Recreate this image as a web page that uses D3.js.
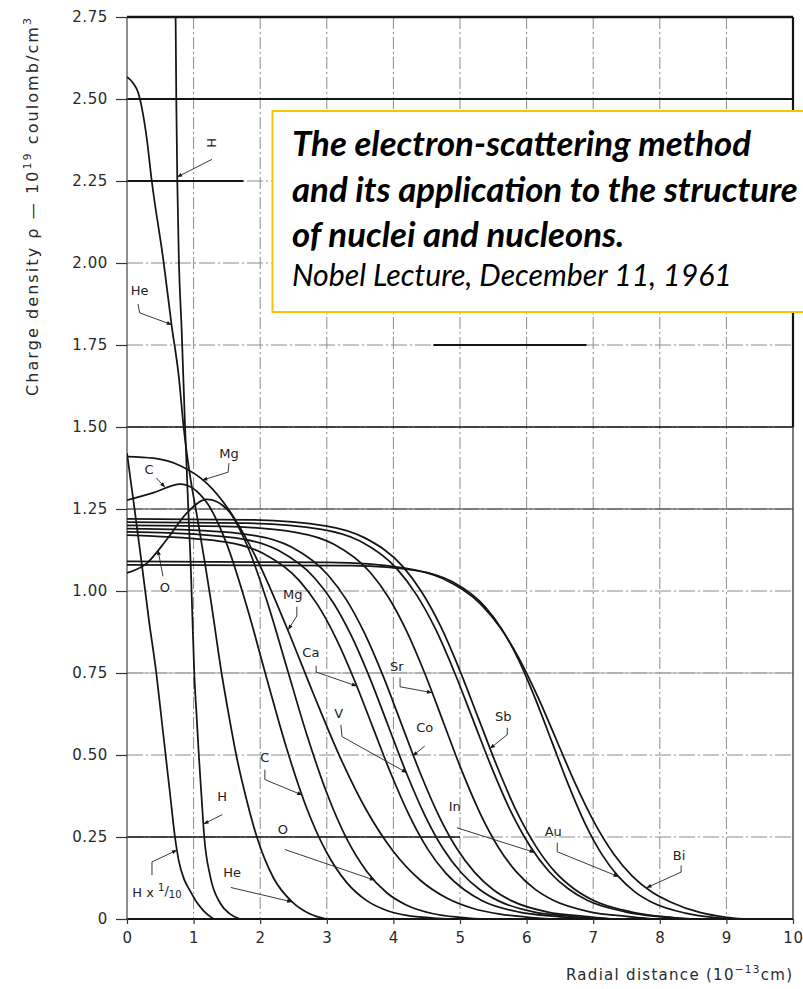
<!DOCTYPE html>
<html>
<head>
<meta charset="utf-8">
<script src="https://cdn.jsdelivr.net/npm/d3@7"></script>
<style>
  html, body { margin: 0; padding: 0; background: #fff; }
  svg { display: block; }
</style>
</head>
<body>
<svg id="chart" width="803" height="989"></svg>
<script>
// ---------------- data ----------------
const xTicks = [0, 1, 2, 3, 4, 5, 6, 7, 8, 9, 10];
const xTickLabels = ["0", "1", "2", "3", "4", "5", "6", "7", "8", "9", "10"];
const yTicks = [0, 0.25, 0.5, 0.75, 1.0, 1.25, 1.5, 1.75, 2.0, 2.25, 2.5, 2.75];
const yTickLabels = ["0", "0.25", "0.50", "0.75", "1.00", "1.25", "1.50", "1.75", "2.00", "2.25", "2.50", "2.75"];

// charge density curves: [radial distance (1e-13 cm), density (1e19 C/cm^3)]
const hydrogenTenth = [[0,1.42],[0.06,1.33],[0.12,1.24],[0.22,1.085],[0.33,0.91],[0.44,0.75],[0.51,0.625],[0.58,0.5],[0.65,0.375],[0.72,0.25],[0.78,0.175],[0.86,0.12],[0.95,0.085],[1.05,0.05],[1.15,0.025],[1.3,0]];
const hydrogen = [[0.73,2.75],[0.74,2.5],[0.755,2.25],[0.78,2.0],[0.82,1.8],[0.87,1.51],[0.92,1.25],[0.956,1.084],[0.985,0.9],[1.01,0.75],[1.045,0.62],[1.08,0.495],[1.12,0.37],[1.16,0.25],[1.25,0.13],[1.4,0.048],[1.55,0.015],[1.7,0]];
const helium = [[0,2.567],[0.09,2.549],[0.17,2.518],[0.22,2.476],[0.30,2.375],[0.37,2.253],[0.545,2.01],[0.67,1.81],[0.78,1.65],[0.85,1.5],[0.94,1.36],[1.05,1.23],[1.17,1.085],[1.26,0.97],[1.42,0.75],[1.53,0.62],[1.64,0.5],[1.8,0.36],[1.95,0.25],[2.2,0.125],[2.48,0.052],[2.75,0.015],[3.0,0]];
const carbon = [[0,1.277],[0.4,1.300],[0.8,1.326],[1.2,1.269],[1.5,1.142],[1.8,0.952],[2.1,0.732],[2.4,0.518],[2.7,0.337],[3.0,0.202],[3.3,0.111],[3.6,0.056],[3.9,0.026],[4.2,0.011],[4.6,0.003],[4.9,0]];
const oxygen = [[0,1.055],[0.3,1.085],[0.6,1.158],[0.9,1.238],[1.2,1.279],[1.5,1.250],[1.8,1.141],[2.1,0.970],[2.4,0.766],[2.7,0.562],[3.0,0.384],[3.3,0.244],[3.6,0.145],[3.9,0.080],[4.2,0.042],[4.6,0.016],[5.0,0.005],[5.3,0]];
const magnesium = [[0,1.41],[0.4,1.405],[0.8,1.382],[1.2,1.328],[1.6,1.226],[2.0,1.076],[2.4,0.888],[2.8,0.686],[3.2,0.493],[3.6,0.330],[4.0,0.206],[4.4,0.119],[4.8,0.064],[5.2,0.032],[5.6,0.015],[6.0,0.006],[6.4,0]];
const calcium = [[0,1.17],[0.39,1.167],[1.49,1.149],[2.04,1.115],[2.59,1.031],[2.865,0.957],[3.14,0.855],[3.415,0.728],[3.69,0.585],[3.965,0.442],[4.24,0.315],[4.515,0.213],[4.79,0.139],[5.065,0.089],[5.34,0.055],[5.89,0.021],[6.44,0.008],[6.9,0]];
const vanadium = [[0,1.18],[0.62,1.177],[1.72,1.159],[2.27,1.124],[2.82,1.039],[3.095,0.965],[3.37,0.863],[3.645,0.735],[3.92,0.59],[4.195,0.445],[4.47,0.317],[4.745,0.215],[5.02,0.141],[5.295,0.090],[5.57,0.056],[6.12,0.021],[6.67,0.008],[7.1,0]];
const cobalt = [[0,1.19],[0.82,1.187],[1.92,1.169],[2.47,1.134],[3.02,1.048],[3.295,0.973],[3.57,0.870],[3.845,0.741],[4.12,0.595],[4.395,0.449],[4.67,0.320],[4.945,0.217],[5.22,0.142],[5.495,0.090],[5.77,0.056],[6.32,0.021],[6.87,0.008],[7.3,0]];
const strontium = [[0,1.20],[1.45,1.197],[2.55,1.178],[3.10,1.143],[3.65,1.057],[3.925,0.981],[4.20,0.877],[4.475,0.747],[4.75,0.60],[5.025,0.453],[5.30,0.323],[5.575,0.219],[5.85,0.143],[6.125,0.091],[6.40,0.057],[6.95,0.022],[7.50,0.008],[7.9,0]];
const indium = [[0,1.21],[1.78,1.207],[2.92,1.188],[3.49,1.153],[4.06,1.066],[4.345,0.989],[4.63,0.885],[4.915,0.753],[5.2,0.605],[5.485,0.457],[5.77,0.325],[6.055,0.221],[6.34,0.144],[6.625,0.092],[6.91,0.057],[7.48,0.022],[8.0,0.007],[8.4,0]];
const antimony = [[0,1.22],[1.86,1.217],[3.0,1.198],[3.57,1.162],[4.14,1.075],[4.425,0.997],[4.71,0.892],[4.995,0.759],[5.28,0.61],[5.565,0.461],[5.85,0.328],[6.135,0.223],[6.42,0.145],[6.705,0.093],[6.99,0.058],[7.56,0.022],[8.05,0.007],[8.5,0]];
const gold = [[0,1.08],[3.38,1.077],[4.38,1.061],[4.88,1.029],[5.38,0.951],[5.63,0.883],[5.88,0.790],[6.13,0.672],[6.38,0.54],[6.63,0.408],[6.88,0.290],[7.13,0.197],[7.38,0.129],[7.63,0.082],[7.88,0.051],[8.38,0.018],[8.8,0.005],[9.1,0]];
const bismuth = [[0,1.09],[3.03,1.087],[4.17,1.070],[4.74,1.038],[5.31,0.960],[5.595,0.891],[5.88,0.797],[6.165,0.679],[6.45,0.545],[6.735,0.411],[7.02,0.293],[7.305,0.199],[7.59,0.130],[7.875,0.083],[8.16,0.052],[8.6,0.02],[9.0,0.005],[9.25,0]];

const curves = [hydrogenTenth, hydrogen, helium, carbon, oxygen, magnesium, calcium, vanadium,
                cobalt, strontium, indium, antimony, gold, bismuth];

// ---------------- layout ----------------
const svg = d3.select("#chart");
const x = d3.scaleLinear().domain([0, 10]).range([127, 793]);
const y = d3.scaleLinear().domain([0, 2.75]).range([919, 17]);
const ink = "#151515";
const labelFont = "DejaVu Sans, Liberation Sans, sans-serif";

const defs = svg.append("defs");
defs.append("clipPath").attr("id", "plotClip")
  .append("rect").attr("x", x(0)).attr("y", y(2.75))
  .attr("width", x(10) - x(0)).attr("height", y(0) - y(2.75));
defs.append("marker").attr("id", "arrow")
  .attr("viewBox", "0 0 10 10").attr("refX", 10).attr("refY", 5)
  .attr("markerUnits", "userSpaceOnUse")
  .attr("markerWidth", 9).attr("markerHeight", 5)
  .attr("orient", "auto")
  .append("path").attr("d", "M0,1 L10,5 L0,9 Z").attr("fill", ink);

// ---- grid ----
const grid = svg.append("g");
grid.selectAll("line.vrule").data(xTicks.filter(d => d > 0 && d < 10)).join("line")
  .attr("class", "vrule")
  .attr("x1", d => x(d)).attr("x2", d => x(d))
  .attr("y1", y(2.75)).attr("y2", y(0))
  .attr("stroke", "#8c8c8c").attr("stroke-width", 1)
  .attr("stroke-dasharray", "12,3,2,3");
grid.selectAll("line.hrule").data(yTicks.filter(d => d > 0 && d < 2.75)).join("line")
  .attr("class", "hrule")
  .attr("x1", x(0)).attr("x2", x(10))
  .attr("y1", d => y(d)).attr("y2", d => y(d))
  .attr("stroke", "#8c8c8c").attr("stroke-width", 1)
  .attr("stroke-dasharray", "16,3,2,3");

// heavier ruled segments of the printed grid
const ruleSegments = [
  { v: 2.75, a: 0, b: 10, w: 2.6, c: ink },
  { v: 2.5, a: 0, b: 10, w: 2.2, c: ink },
  { v: 2.25, a: 0, b: 1.75, w: 2.0, c: ink },
  { v: 1.75, a: 4.6, b: 6.9, w: 1.8, c: ink },
  { v: 1.5, a: 0, b: 10, w: 1.7, c: ink },
  { v: 1.25, a: 0, b: 10, w: 1.2, c: "#333" },
  { v: 0.75, a: 0, b: 10, w: 1.1, c: "#a0a0a0" },
  { v: 0.25, a: 0, b: 5, w: 1.7, c: ink },
  { v: 0, a: 0, b: 10, w: 2.0, c: ink }
];
grid.selectAll("line.seg").data(ruleSegments).join("line")
  .attr("class", "seg")
  .attr("x1", d => x(d.a)).attr("x2", d => x(d.b))
  .attr("y1", d => y(d.v)).attr("y2", d => y(d.v))
  .attr("stroke", d => d.c).attr("stroke-width", d => d.w);

// frame sides
grid.append("line").attr("x1", x(0)).attr("x2", x(0)).attr("y1", y(2.75)).attr("y2", y(0))
  .attr("stroke", "#444").attr("stroke-width", 1.2);
grid.append("line").attr("x1", x(10)).attr("x2", x(10)).attr("y1", y(2.75)).attr("y2", y(1.5))
  .attr("stroke", ink).attr("stroke-width", 2.2);
grid.append("line").attr("x1", x(10)).attr("x2", x(10)).attr("y1", y(1.5)).attr("y2", y(0))
  .attr("stroke", "#333").attr("stroke-width", 1.3);

// ---- axes ----
const yAxis = svg.append("g").attr("transform", `translate(${x(0)},0)`)
  .call(d3.axisLeft(y).tickValues(yTicks).tickFormat((d, i) => yTickLabels[i])
    .tickSize(11).tickPadding(8));
const xAxis = svg.append("g").attr("transform", `translate(0,${y(0)})`)
  .call(d3.axisBottom(x).tickValues(xTicks).tickFormat((d, i) => xTickLabels[i])
    .tickSize(5).tickPadding(8));
[yAxis, xAxis].forEach(g => {
  g.select(".domain").remove();
  g.selectAll(".tick line").attr("stroke", "#333").attr("stroke-width", 1.2);
  g.selectAll(".tick text").attr("fill", "#2a2a2a")
    .attr("font-family", labelFont).attr("font-size", 15).attr("letter-spacing", 0.6);
});

// ---- curves ----
const line = d3.line().x(d => x(d[0])).y(d => y(d[1])).curve(d3.curveMonotoneX);
svg.append("g").attr("clip-path", "url(#plotClip)")
  .selectAll("path").data(curves).join("path")
  .attr("d", line).attr("fill", "none")
  .attr("stroke", ink).attr("stroke-width", 1.75).attr("stroke-linejoin", "round");

// ---- element labels with leader lines ----
const callouts = [
  { t: "H", at: [1.276, 2.366], rot: -90, path: [[1.276, 2.316], [0.752, 2.262]] },
  { t: "He", at: [0.19, 1.915], path: [[0.165, 1.875], [0.19, 1.848], [0.672, 1.812]] },
  { t: "Mg", at: [1.53, 1.418], path: [[1.532, 1.39], [1.517, 1.362], [1.13, 1.338]] },
  { t: "C", at: [0.33, 1.37], path: [[0.44, 1.345], [0.57, 1.316]] },
  { t: "O", at: [0.57, 1.012], path: [[0.54, 1.045], [0.465, 1.125]] },
  { t: "Mg", at: [2.49, 0.99], path: [[2.55, 0.952], [2.55, 0.924], [2.42, 0.882]] },
  { t: "Ca", at: [2.76, 0.813], path: [[2.84, 0.772], [2.84, 0.753], [3.45, 0.71]] },
  { t: "V", at: [3.18, 0.627], path: [[3.21, 0.592], [3.23, 0.556], [4.2, 0.446]] },
  { t: "Co", at: [4.47, 0.585], path: [[4.47, 0.527], [4.29, 0.497]] },
  { t: "Sr", at: [4.05, 0.77], path: [[4.1, 0.736], [4.1, 0.708], [4.58, 0.69]] },
  { t: "Sb", at: [5.65, 0.618], path: [[5.71, 0.583], [5.71, 0.562], [5.45, 0.52]] },
  { t: "In", at: [4.92, 0.343], path: [[4.955, 0.278], [6.12, 0.203]] },
  { t: "Au", at: [6.4, 0.267], path: [[6.46, 0.233], [6.46, 0.205], [7.38, 0.129]] },
  { t: "Bi", at: [8.29, 0.194], path: [[8.32, 0.163], [8.32, 0.143], [7.8, 0.095]] },
  { t: "C", at: [2.07, 0.493], path: [[2.07, 0.455], [2.07, 0.425], [2.63, 0.378]] },
  { t: "O", at: [2.34, 0.273], path: [[2.37, 0.212], [3.72, 0.118]] },
  { t: "H", at: [1.43, 0.374], path: [[1.43, 0.318], [1.15, 0.29]] },
  { t: "He", at: [1.58, 0.142], path: [[1.56, 0.096], [2.48, 0.052]] },
  { t: "Hx", at: [0.45, 0.083], path: [[0.375, 0.134], [0.375, 0.174], [0.75, 0.21]] }
];
const leader = d3.line().x(d => x(d[0])).y(d => y(d[1]));
const notes = svg.append("g");
notes.selectAll("path").data(callouts).join("path")
  .attr("d", d => leader(d.path)).attr("fill", "none")
  .attr("stroke", "#222").attr("stroke-width", 0.9)
  .attr("marker-end", "url(#arrow)");
const noteText = notes.selectAll("text").data(callouts).join("text")
  .attr("transform", d => `translate(${x(d.at[0])},${y(d.at[1])}) rotate(${d.rot || 0})`)
  .attr("text-anchor", "middle").attr("dominant-baseline", "central")
  .attr("font-family", labelFont).attr("font-size", 13).attr("fill", "#222");
noteText.filter(d => d.t !== "Hx").text(d => d.t);
const hx = noteText.filter(d => d.t === "Hx");
hx.append("tspan").text("H x ");
hx.append("tspan").attr("font-size", 10).attr("dy", -5).text("1");
hx.append("tspan").attr("dy", 3).text("/");
hx.append("tspan").attr("font-size", 10).attr("dy", 4).text("10");

// ---- axis titles ----
const yTitle = svg.append("text")
  .attr("transform", "translate(38,207) rotate(-90)")
  .attr("text-anchor", "middle")
  .attr("font-family", labelFont).attr("font-size", 16).attr("fill", "#2a2a2a");
yTitle.append("tspan").text("Charge density  ρ  —  10");
yTitle.append("tspan").attr("font-size", 11).attr("dy", -7).text("19");
yTitle.append("tspan").attr("dy", 7).text(" coulomb/cm");
yTitle.append("tspan").attr("font-size", 11).attr("dy", -7).text("3");
yTitle.attr("textLength", 378).attr("lengthAdjust", "spacing");

const xTitle = svg.append("text")
  .attr("x", 792).attr("y", 980).attr("text-anchor", "end")
  .attr("font-family", labelFont).attr("font-size", 15).attr("fill", "#2a2a2a");
xTitle.append("tspan").text("Radial distance  (10");
xTitle.append("tspan").attr("font-size", 10.5).attr("dy", -7).text("−13");
xTitle.append("tspan").attr("dy", 7).text("cm)");
xTitle.attr("textLength", 226).attr("lengthAdjust", "spacing");

// ---- lecture caption box ----
const boxG = svg.append("g");
boxG.append("rect").attr("x", 272.5).attr("y", 111).attr("width", 560).attr("height", 201)
  .attr("fill", "#fff").attr("stroke", "#FFC000").attr("stroke-width", 2);
const titleLines = ["The electron-scattering method", "and its application to the structure", "of nuclei and nucleons."];
const titleFont = "Lato, 'Open Sans', sans-serif";
const tl = boxG.selectAll("text.tl").data(titleLines).join("text")
  .attr("class", "tl")
  .attr("x", 292).attr("y", (d, i) => 156 + i * 45.5)
  .attr("font-family", titleFont).attr("font-weight", 700).attr("font-style", "italic")
  .attr("font-size", 30).attr("fill", "#000").text(d => d);
// size the heading so its longest line still fits inside the page
const longest = d3.max(tl.nodes(), n => n.getComputedTextLength());
tl.attr("font-size", 30 * 506 / longest);
const sub = boxG.append("text").attr("x", 292).attr("y", 286)
  .attr("font-family", titleFont).attr("font-style", "italic")
  .attr("font-size", 24).attr("fill", "#000")
  .text("Nobel Lecture, December 11, 1961");
const w1 = sub.node().getComputedTextLength();
sub.attr("font-size", 24 * 440 / w1);
</script>
</body>
</html>
